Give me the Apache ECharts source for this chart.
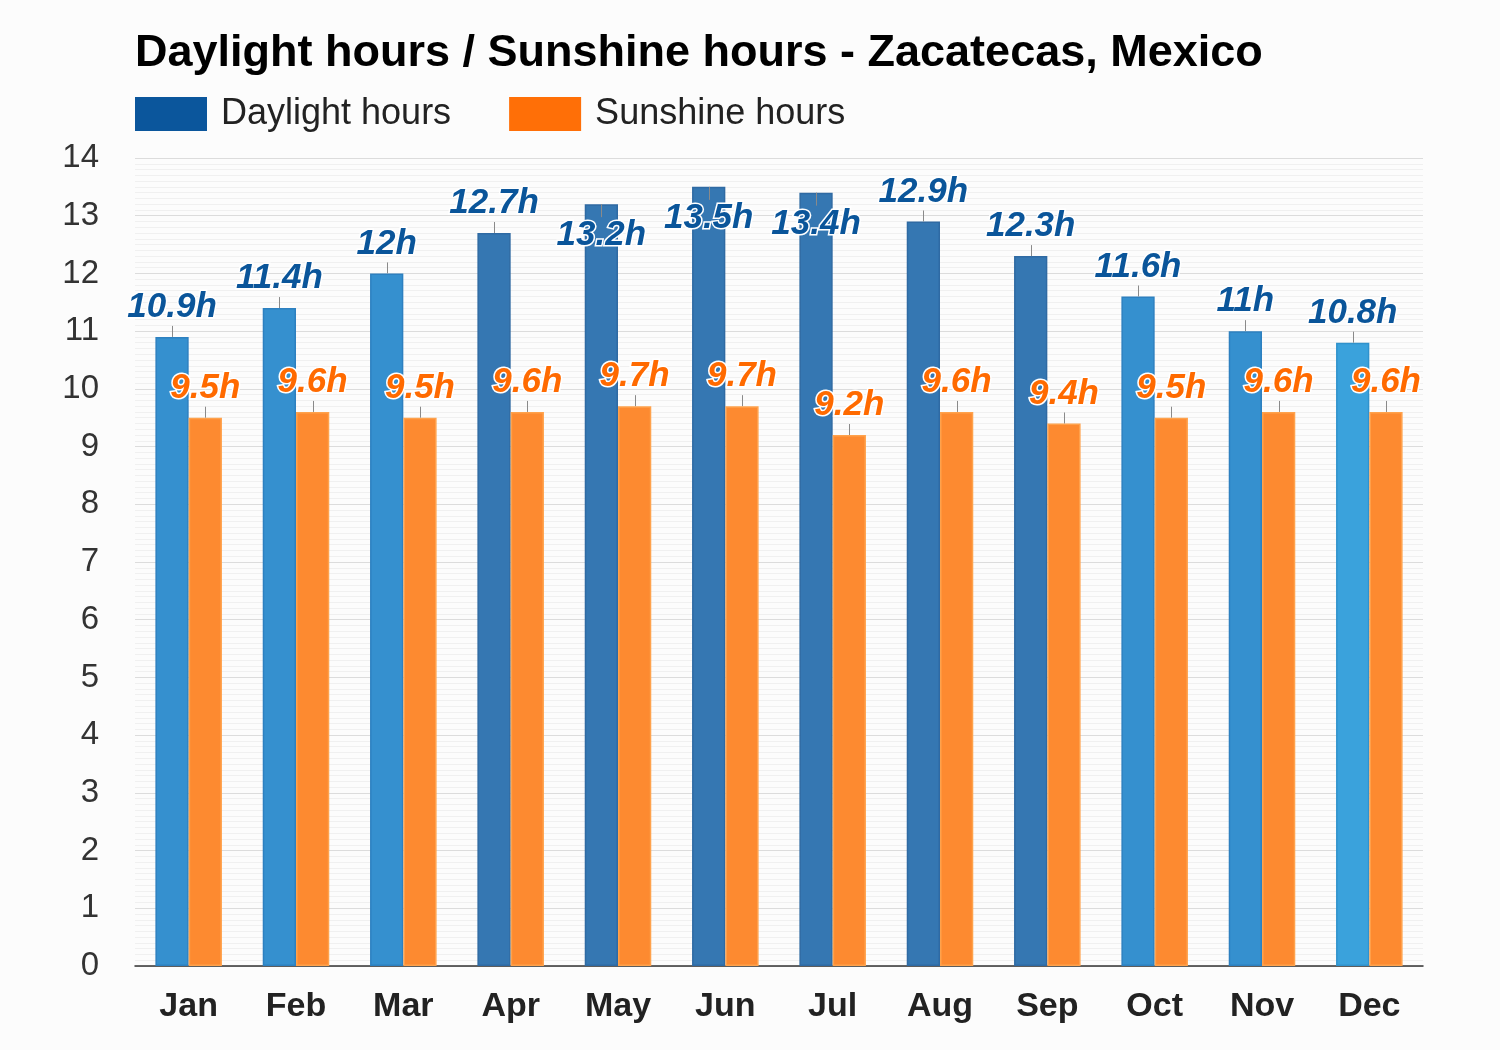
<!DOCTYPE html>
<html><head><meta charset="utf-8">
<script src="https://cdn.jsdelivr.net/npm/echarts@6/dist/echarts.min.js"></script>
<style>html,body{margin:0;padding:0;background:#fcfcfc}#c{width:1500px;height:1050px}</style>
</head><body><div id="c"></div><script>
const months = ['Jan','Feb','Mar','Apr','May','Jun','Jul','Aug','Sep','Oct','Nov','Dec'];
const daylightHours = [10.9, 11.4, 12, 12.7, 13.2, 13.5, 13.4, 12.9, 12.3, 11.6, 11, 10.8];
const sunshineHours = [9.5, 9.6, 9.5, 9.6, 9.7, 9.7, 9.2, 9.6, 9.4, 9.5, 9.6, 9.6];
const yMin = 0, yMax = 14, yInterval = 1;

const FONT = '"Liberation Sans", Arial, sans-serif';
const BAR_FRAC = 0.31;
function daylightColor(v){ return v >= 12.3 ? '#3577b2' : (v >= 10.9 ? '#3590cf' : '#3aa2dc'); }
function daylightBorder(v){ return v >= 12.3 ? '#2f6aa3' : (v >= 10.9 ? '#2d80c0' : '#3092cc'); }
function flipped(v){ return v > yMax - 0.9; }

const labelBase = {show:true, position:'top', distance:12, fontFamily:FONT, fontSize:35, fontWeight:'bold', fontStyle:'italic', textBorderColor:'#fff', textBorderWidth:3, formatter: p => p.value + 'h'};

function tickSeries(values, side, id){
  return {type:'custom', id:id, silent:true, z:5, legendHoverLink:false,
    data: values.map((v,i)=>[i,v]),
    renderItem(params, api){
      const i = api.value(0), v = api.value(1);
      const p = api.coord([i, v]);
      const bw = api.size([1,0])[0]*BAR_FRAC;
      const x = Math.round(p[0] + side*bw/2) + 0.5;
      const y2 = flipped(v) && side < 0 ? p[1] + 13 : p[1] - 11;
      return {type:'line', shape:{x1:x, y1:p[1], x2:x, y2:y2}, style:{stroke:'#8a8a8a', lineWidth:1}};
    }};
}

const chart = echarts.init(document.getElementById('c'), null, {renderer:'canvas'});
chart.setOption({
  backgroundColor:'#fcfcfc',
  animation:false,
  title:{text:'Daylight hours / Sunshine hours - Zacatecas, Mexico', left:130, top:26,
    textStyle:{fontFamily:FONT, fontSize:45, fontWeight:'bold', color:'#000'}},
  legend:{left:135, top:96, padding:0, itemWidth:72, itemHeight:34, itemGap:58, icon:'rect',
    data:[{name:'Daylight hours', itemStyle:{color:'#0b569c', borderWidth:0}},
          {name:'Sunshine hours', itemStyle:{color:'#ff6f07', borderWidth:0}}],
    textStyle:{fontFamily:FONT, fontSize:36, color:'#222', padding:[2,0,0,9]}},
  grid:{left:135, right:77, top:158, bottom:84},
  xAxis:{type:'category', data:months,
    axisLine:{lineStyle:{color:'#333', width:1.5}}, axisTick:{show:false},
    axisLabel:{fontFamily:FONT, fontSize:34, fontWeight:'bold', color:'#222', margin:24}},
  yAxis:{type:'value', min:yMin, max:yMax, interval:yInterval,
    axisLabel:{fontFamily:FONT, fontSize:33, color:'#333', margin:36},
    splitLine:{lineStyle:{color:'#dcdcdc', width:1}},
    minorTick:{show:false, splitNumber:10},
    minorSplitLine:{show:true, lineStyle:{color:'#f0f0f0', width:1}}},
  series:[
    {type:'bar', name:'Daylight hours', barWidth:(BAR_FRAC*100)+'%', barGap:'0%', z:3,
      itemStyle:{color:'#0b569c'},
      label:Object.assign({}, labelBase, {color:'#0a559a'}),
      data: daylightHours.map(v => {
        const o = {value:v, itemStyle:{color:daylightColor(v), borderColor:daylightBorder(v), borderWidth:1.5}};
        if (flipped(v)) o.label = {position:'insideTop', distance:14};
        return o;
      })},
    {type:'bar', name:'Sunshine hours', barWidth:(BAR_FRAC*100)+'%', barGap:'0%', z:3,
      itemStyle:{color:'#ff6f07'},
      label:Object.assign({}, labelBase, {color:'#ff6a00'}),
      data: sunshineHours.map(v => ({value:v, itemStyle:{color:'#fd8a30', borderColor:'#ffa24c', borderWidth:1.5}}))},
    tickSeries(daylightHours, -1, 'tickD'),
    tickSeries(sunshineHours, 1, 'tickS')
  ]
});
</script></body></html>
